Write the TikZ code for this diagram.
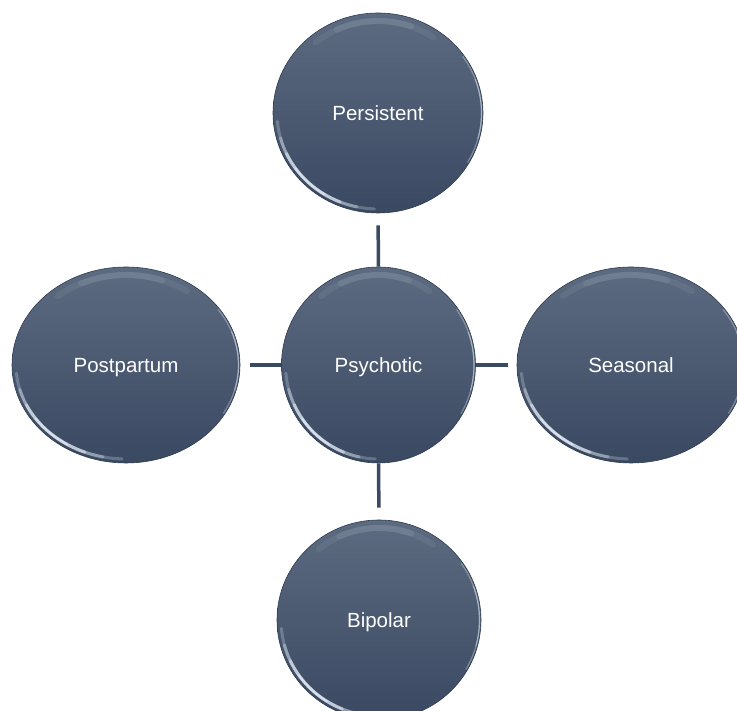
\documentclass[tikz,border=0pt]{standalone}
\usepackage{fontspec}
\setmainfont{Liberation Sans}
\usetikzlibrary{shapes.geometric}
\definecolor{ctop}{HTML}{5C6B80}
\definecolor{cbot}{HTML}{3A4962}
\definecolor{cline}{HTML}{3B4A63}
\definecolor{cedge}{HTML}{2E3B50}
\definecolor{chl}{HTML}{E6EEF8}
\tikzset{
  bubble/.style={ellipse, inner sep=0pt, top color=ctop, bottom color=cbot, draw=cedge, line width=0.6pt,
    text=white, font=\fontsize{20.5}{24}\selectfont, text height=15pt, text depth=0pt},
  link/.style={draw=cline, line width=3.5pt},
  hl/.style={draw=chl, line cap=round}
}
% #1 node, #2 rx, #3 ry, #4 inset, #5 start, #6 end, #7 width, #8 opacity
\newcommand{\rimarc}[8]{%
  \draw[hl, line width=#7, opacity=#8] ([shift={(#1.center)}]#5:#2-#4 and #3-#4) arc[start angle=#5, end angle=#6, x radius=#2-#4, y radius=#3-#4];}
\newcommand{\bevel}[3]{%
  \rimarc{#1}{#2}{#3}{4}{185}{268}{3pt}{0.25}
  \rimarc{#1}{#2}{#3}{4}{195}{258}{3pt}{0.35}
  \rimarc{#1}{#2}{#3}{4}{205}{248}{3pt}{0.55}
  \rimarc{#1}{#2}{#3}{4}{215}{238}{2pt}{0.6}
  \rimarc{#1}{#2}{#3}{8}{55}{130}{6pt}{0.07}
  \rimarc{#1}{#2}{#3}{8}{70}{115}{6pt}{0.09}
  \rimarc{#1}{#2}{#3}{1.5}{-30}{35}{1.2pt}{0.35}
  \rimarc{#1}{#2}{#3}{1.5}{-15}{20}{1.2pt}{0.4}
}
\begin{document}
\begin{tikzpicture}[x=1pt,y=1pt]
\useasboundingbox (0,0) rectangle (737,711);
\node[bubble, minimum width=210pt, minimum height=200pt] (pers) at (378,598) {Persistent};
\node[bubble, minimum width=194pt, minimum height=196pt] (psy) at (378.5,346) {Psychotic};
\node[bubble, minimum width=228pt, minimum height=196pt] (post) at (126,346) {Postpartum};
\node[bubble, minimum width=228pt, minimum height=196pt] (seas) at (631,346) {Seasonal};
\node[bubble, minimum width=204pt, minimum height=200pt] (bip) at (379,91) {Bipolar};
\bevel{pers}{105}{100}
\bevel{psy}{97}{98}
\bevel{post}{114}{98}
\bevel{seas}{114}{98}
\bevel{bip}{102}{100}
\draw[link, shorten <=12pt] (pers.south) -- (psy.north);
\draw[link, shorten <=10pt] (post.east) -- (psy.west);
\draw[link, shorten >=9pt] (psy.east) -- (seas.west);
\draw[link, shorten >=12pt] (psy.south) -- (bip.north);
\end{tikzpicture}
\end{document}
